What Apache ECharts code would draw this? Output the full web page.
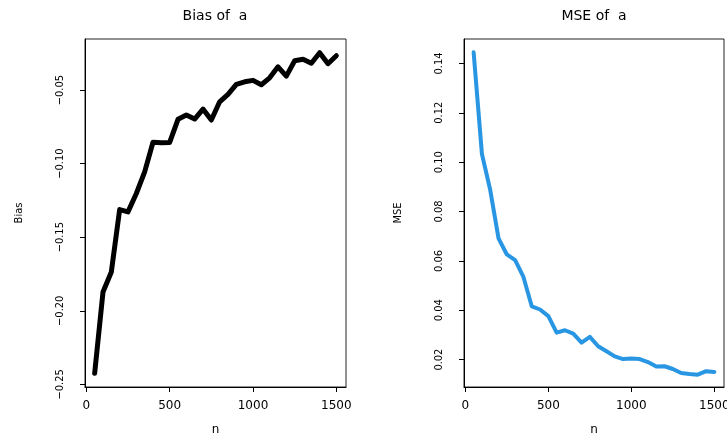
<!DOCTYPE html>
<html>
<head>
  <meta charset="utf-8">
  <title>Bias and MSE of a</title>
  <script src="https://cdn.jsdelivr.net/npm/echarts@6/dist/echarts.min.js"></script>
  <style>
    html, body { margin: 0; padding: 0; background: #fff; }
  </style>
</head>
<body>
  <div id="main" style="width: 727px; height: 434px;"></div>

  <script>
    // sample sizes
    var nValues = [50, 100, 150, 200, 250, 300, 350, 400, 450, 500,
                   550, 600, 650, 700, 750, 800, 850, 900, 950, 1000,
                   1050, 1100, 1150, 1200, 1250, 1300, 1350, 1400, 1450, 1500];

    // bias of a (left panel)
    var biasValues = [-0.2425, -0.1872, -0.1736, -0.1312, -0.1328, -0.1203, -0.1056, -0.0855, -0.0858, -0.0856,
                      -0.0699, -0.0670, -0.0697, -0.0629, -0.0704, -0.0580, -0.0529, -0.0461, -0.0444, -0.0434,
                      -0.0464, -0.0417, -0.0342, -0.0405, -0.0301, -0.0291, -0.0318, -0.0246, -0.0321, -0.0267];

    // MSE of a (right panel)
    var mseValues = [0.1445, 0.1033, 0.0887, 0.0691, 0.0626, 0.0603, 0.0535, 0.0416, 0.0403, 0.0376,
                     0.0309, 0.0319, 0.0305, 0.0269, 0.0292, 0.0254, 0.0234, 0.0213, 0.0202, 0.0204,
                     0.0202, 0.0190, 0.0172, 0.0173, 0.0162, 0.0146, 0.0142, 0.0139, 0.0153, 0.0150];

    // tick labels
    var xTicks = [0, 500, 1000, 1500];
    var biasTicks = [-0.25, -0.20, -0.15, -0.10, -0.05];
    var mseTicks = [0.02, 0.04, 0.06, 0.08, 0.10, 0.12, 0.14];

    var chart = echarts.init(document.getElementById('main'));

    function pairs(ys) {
      return nValues.map(function (n, i) { return [n, ys[i]]; });
    }

    var wideFont = "'DejaVu Sans', sans-serif";
    var narrowFont = "'Liberation Sans Narrow', 'DejaVu Sans Condensed', 'Liberation Sans', Arial, sans-serif";

    function xAxisOf(gridIndex) {
      return {
        type: 'value',
        gridIndex: gridIndex,
        min: -8,
        max: 1558,
        name: 'n',
        nameLocation: 'middle',
        nameGap: 37,
        nameTextStyle: { color: '#000', fontSize: 12, fontFamily: wideFont },
        splitLine: { show: false },
        axisLine: { show: true, onZero: false, lineStyle: { color: '#000', width: 1 } },
        axisTick: { show: true, length: 5, customValues: xTicks, lineStyle: { color: '#000' } },
        axisLabel: {
          customValues: xTicks,
          margin: 13,
          color: '#000',
          fontSize: 12,
          fontFamily: wideFont,
          formatter: function (v) { return String(v); }
        }
      };
    }

    function yAxisOf(gridIndex, name, lo, hi, ticks, digits) {
      return {
        type: 'value',
        gridIndex: gridIndex,
        min: lo,
        max: hi,
        name: name,
        nameLocation: 'middle',
        nameGap: 60,
        nameTextStyle: { color: '#000', fontSize: 11, fontFamily: narrowFont },
        splitLine: { show: false },
        axisLine: { show: true, onZero: false, lineStyle: { color: '#000', width: 1 } },
        axisTick: { show: true, length: 5, customValues: ticks, lineStyle: { color: '#000' } },
        axisLabel: {
          customValues: ticks,
          rotate: 90,
          margin: 19,
          color: '#000',
          fontSize: 11,
          fontFamily: narrowFont,
          formatter: function (v) { return v.toFixed(digits).replace('-', '\u2212'); }
        }
      };
    }

    var gridBase = { top: 39, height: 348, show: true, borderColor: '#222', borderWidth: 1,
                     containLabel: false, outerBoundsMode: 'none' };

    var option = {
      animation: false,
      backgroundColor: '#fff',
      title: [
        {
          text: 'Bias of  a',
          left: 215, top: 9, textAlign: 'center', padding: 0,
          textStyle: { color: '#000', fontSize: 14, fontWeight: 'normal', fontFamily: wideFont }
        },
        {
          text: 'MSE of  a',
          left: 594, top: 9, textAlign: 'center', padding: 0,
          textStyle: { color: '#000', fontSize: 14, fontWeight: 'normal', fontFamily: wideFont }
        }
      ],
      grid: [
        Object.assign({ left: 85, width: 261 }, gridBase),
        Object.assign({ left: 464, width: 260 }, gridBase)
      ],
      xAxis: [xAxisOf(0), xAxisOf(1)],
      yAxis: [
        yAxisOf(0, 'Bias', -0.2518, -0.0153, biasTicks, 2),
        yAxisOf(1, 'MSE', 0.0089, 0.1499, mseTicks, 2)
      ],
      series: [
        {
          name: 'Bias',
          type: 'line',
          xAxisIndex: 0,
          yAxisIndex: 0,
          showSymbol: false,
          lineStyle: { color: '#000', width: 5, cap: 'round', join: 'round' },
          data: pairs(biasValues)
        },
        {
          name: 'MSE',
          type: 'line',
          xAxisIndex: 1,
          yAxisIndex: 1,
          showSymbol: false,
          lineStyle: { color: '#2996e3', width: 4, cap: 'round', join: 'round' },
          data: pairs(mseValues)
        }
      ]
    };

    chart.setOption(option);
  </script>
</body>
</html>
